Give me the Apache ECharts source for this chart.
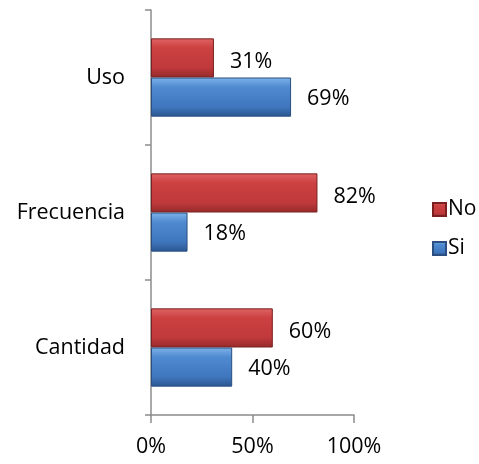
<!DOCTYPE html>
<html><head><meta charset="utf-8">
<script src="https://cdn.jsdelivr.net/npm/echarts@6/dist/echarts.min.js"></script>
<style>html,body{margin:0;padding:0;background:#fff}#c{width:479px;height:464px}</style>
</head><body><div id="c"></div>
<script>
const categories = ['Cantidad', 'Frecuencia', 'Uso'];
const siValues = [40, 18, 69];
const noValues = [60, 82, 31];
const xTicks = [0, 50, 100];

const font = 'Open Sans, Liberation Sans, sans-serif';
const chart = echarts.init(document.getElementById('c'));
const redGrad = new echarts.graphic.LinearGradient(0, 0, 0, 1, [
  {offset: 0, color: '#e06464'}, {offset: 0.25, color: '#cc4040'},
  {offset: 0.75, color: '#c0393b'}, {offset: 1, color: '#952a2a'}]);
const blueGrad = new echarts.graphic.LinearGradient(0, 0, 0, 1, [
  {offset: 0, color: '#7eb3ea'}, {offset: 0.25, color: '#4f8ad0'},
  {offset: 0.75, color: '#3f76bd'}, {offset: 1, color: '#2b5690'}]);
chart.setOption({
  animation: false,
  grid: {left: 151, right: 125, top: 10, bottom: 49},
  legend: {
    orient: 'vertical', left: 427, top: 194, itemGap: 18,
    itemWidth: 13, itemHeight: 13, icon: 'rect',
    data: ['No', 'Si'],
    textStyle: {fontFamily: font, fontSize: 21, color: '#000', padding: [0, 0, 0, -3]}
  },
  xAxis: {
    type: 'value', min: 0, max: 100, interval: 50,
    axisLine: {show: true, lineStyle: {color: '#8c8c8c', width: 1.5}},
    axisTick: {show: true, length: 8, lineStyle: {color: '#8c8c8c', width: 1.5}},
    splitLine: {show: false},
    axisLabel: {fontFamily: font, fontSize: 21.5, color: '#000', margin: 21,
      formatter: v => xTicks.includes(v) ? v + '%' : ''}
  },
  yAxis: {
    type: 'category', data: categories,
    axisLine: {show: true, lineStyle: {color: '#8c8c8c', width: 1.5}},
    axisTick: {show: true, length: 6, lineStyle: {color: '#8c8c8c', width: 1.5}},
    axisLabel: {fontFamily: font, fontSize: 21.5, color: '#000', margin: 26, lineHeight: 26, padding: [4, 0, 0, 0]}
  },
  series: [
    {name: 'No', type: 'bar', data: noValues, barGap: '0%', barCategoryGap: '42%',
      itemStyle: {color: redGrad, borderColor: '#7a2020', borderWidth: 1},
      label: {show: true, position: 'right', distance: 16, formatter: '{c}%',
        fontFamily: font, fontSize: 21.5, color: '#000', offset: [0, 4]}},
    {name: 'Si', type: 'bar', data: siValues, barGap: '0%', barCategoryGap: '42%',
      itemStyle: {color: blueGrad, borderColor: '#2a4f80', borderWidth: 1},
      label: {show: true, position: 'right', distance: 16, formatter: '{c}%',
        fontFamily: font, fontSize: 21.5, color: '#000', offset: [0, 2]}}
  ]
});
</script></body></html>
